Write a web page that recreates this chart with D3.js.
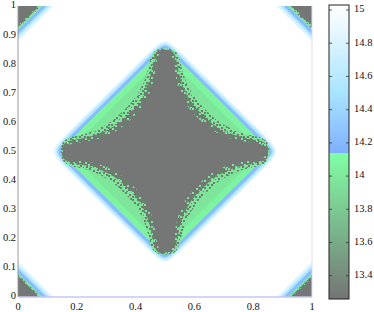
<!DOCTYPE html>
<html>
<head>
<meta charset="utf-8">
<script src="https://cdn.jsdelivr.net/npm/d3@7"></script>
<style>
  body { margin: 0; background: #fff; }
  svg { display: block; }
  text { font-family: "Liberation Serif", "DejaVu Serif", serif; font-size: 10.5px; fill: #111; }
</style>
</head>
<body>
<svg id="chart" width="374" height="312"></svg>
<script>
// ticks
const xTicks = [0, 0.2, 0.4, 0.6, 0.8, 1];
const yTicks = [0, 0.1, 0.2, 0.3, 0.4, 0.5, 0.6, 0.7, 0.8, 0.9, 1];
const cbTicks = [13.4, 13.6, 13.8, 14, 14.2, 14.4, 14.6, 14.8, 15];
const cbRange = [13.26, 15.03];

// colormap stops (value -> colour), the jump green->blue sits at 14.14
const cmapValues = [13.26, 14.14, 14.1401, 14.5, 15.03];
const cmapColors = ["#757575", "#80ffa4", "#7fb0ff", "#a8e4ff", "#ffffff"];

// centre diamond bands: [value, L1 radius on the sides, radius at the tips]
const centerBands = [
  [14.82, 0.395, 0.377],
  [14.55, 0.386, 0.370],
  [14.22, 0.375, 0.363],
  [14.07, 0.360, 0.354],
  [13.98, 0.330, 0.352]
];
// star shaped low region, one octant (|dx|,|dy|) from top tip to diagonal
const rimOuter = [[0, 0.354], [0.032, 0.347], [0.046, 0.328], [0.054, 0.30], [0.062, 0.268], [0.072, 0.24], [0.087, 0.21], [0.106, 0.18], [0.122, 0.16], [0.141, 0.141]];
const rimInner = [[0, 0.351], [0.024, 0.345], [0.035, 0.328], [0.042, 0.298], [0.049, 0.265], [0.058, 0.232], [0.073, 0.198], [0.092, 0.166], [0.108, 0.146], [0.127, 0.127]];
const coreOctant = [[0, 0.347], [0.015, 0.343], [0.024, 0.325], [0.03, 0.295], [0.036, 0.26], [0.045, 0.222], [0.06, 0.185], [0.08, 0.152], [0.095, 0.133], [0.113, 0.113]];
const coreValue = 13.27;

// corner diamonds: [value, L1 radius]; "A"/"B" = noisy rim
const cornerBands = [[14.82, 0.12], [14.55, 0.108], [14.22, 0.097], [14.07, 0.082], ["B", 0.078], ["A", 0.073], [13.27, 0.067]];
const corners = [[0, 0], [1, 0], [0, 1], [1, 1]];
const center = [0.5, 0.5];

const svg = d3.select("#chart");
const x = d3.scaleLinear().domain([0, 1]).range([18, 312]);
const y = d3.scaleLinear().domain([0, 1]).range([297, 6]);
const color = d3.scaleLinear().domain(cmapValues).range(cmapColors);

const defs = svg.append("defs");
defs.append("clipPath").attr("id", "plotclip")
  .append("rect").attr("x", x(0)).attr("y", y(1))
  .attr("width", x(1) - x(0)).attr("height", y(0) - y(1));

// speckle textures for the noisy rim of the low region
function speckle(id, base, blocks) {
  const p = defs.append("pattern").attr("id", id)
    .attr("width", 12).attr("height", 12).attr("patternUnits", "userSpaceOnUse");
  p.append("rect").attr("width", 12).attr("height", 12).attr("fill", base);
  p.selectAll("rect.b").data(blocks).enter().append("rect")
    .attr("x", d => d[0]).attr("y", d => d[1]).attr("width", 2).attr("height", 2)
    .attr("fill", d => d[2]);
}
const G = color(13.98), D = "#5e8c62", K = color(coreValue);
speckle("speckA", K, [[0, 0, G], [6, 1, D], [9, 0, G], [3, 3, D], [1, 6, G], [7, 5, G], [10, 7, D],
  [4, 8, G], [0, 10, D], [7, 10, G], [10, 11, G], [5, 0, D]]);
speckle("speckB", G, [[1, 1, K], [5, 0, D], [9, 2, K], [3, 4, D], [7, 4, K], [0, 7, D], [5, 7, K],
  [10, 6, D], [2, 10, K], [8, 9, K], [11, 11, D], [6, 11, D], [0, 4, K]]);

const plot = svg.append("g").attr("clip-path", "url(#plotclip)");
plot.append("rect").attr("x", x(0)).attr("y", y(1))
  .attr("width", x(1) - x(0)).attr("height", y(0) - y(1)).attr("fill", "#fff");

const line = d3.line().x(d => x(d[0])).y(d => y(d[1]));

// rounded diamond through b-spline control points
function roundedDiamond(c, rs, rt) {
  const s = Math.max(rs - rt, 0.004) / 0.2357;
  const verts = [[0, rs], [rs, 0], [0, -rs], [-rs, 0]];
  const pts = [];
  verts.forEach((v, i) => {
    const prev = verts[(i + 3) % 4], next = verts[(i + 1) % 4];
    const dp = [prev[0] - v[0], prev[1] - v[1]], dn = [next[0] - v[0], next[1] - v[1]];
    const lp = Math.hypot(dp[0], dp[1]), ln = Math.hypot(dn[0], dn[1]);
    pts.push([c[0] + v[0] + dp[0] / lp * s, c[1] + v[1] + dp[1] / lp * s]);
    pts.push([c[0] + v[0], c[1] + v[1]]);
    pts.push([c[0] + v[0] + dn[0] / ln * s, c[1] + v[1] + dn[1] / ln * s]);
  });
  return pts;
}

function star(c, oct) {
  // octant -> quadrant (mirror on diagonal), then four quadrants
  const quad = oct.concat(oct.slice(0, -1).reverse().map(p => [p[1], p[0]]));
  const pts = [];
  quad.forEach(p => pts.push([c[0] + p[0], c[1] + p[1]]));
  quad.slice(1).forEach(p => pts.push([c[0] + p[1], c[1] - p[0]]));
  quad.slice(1).forEach(p => pts.push([c[0] - p[0], c[1] - p[1]]));
  quad.slice(1, -1).forEach(p => pts.push([c[0] - p[1], c[1] + p[0]]));
  return pts;
}

centerBands.forEach(b => {
  plot.append("path")
    .attr("d", line.curve(d3.curveBasisClosed)(roundedDiamond(center, b[1], Math.min(b[1], b[2]))))
    .attr("fill", color(b[0]));
});
[[rimOuter, "url(#speckB)"], [rimInner, "url(#speckA)"], [coreOctant, K]].forEach(r => {
  plot.append("path").attr("d", line.curve(d3.curveCatmullRomClosed)(star(center, r[0])))
    .attr("fill", r[1]);
});

corners.forEach(c => {
  cornerBands.forEach(b => {
    const r = b[1];
    plot.append("path")
      .attr("d", line.curve(d3.curveLinearClosed)([[c[0], c[1] + r], [c[0] + r, c[1]], [c[0], c[1] - r], [c[0] - r, c[1]]]))
      .attr("fill", typeof b[0] === "string" ? "url(#speck" + b[0] + ")" : color(b[0]));
  });
});

// frame lines
svg.append("line").attr("x1", x(0)).attr("x2", x(0)).attr("y1", y(1)).attr("y2", y(0))
  .attr("stroke", "#9a9a9a").attr("stroke-width", 1);
svg.append("line").attr("x1", x(0)).attr("x2", x(1)).attr("y1", y(0)).attr("y2", y(0))
  .attr("stroke", "#c6c6f2").attr("stroke-width", 1.6);
svg.append("line").attr("x1", x(1)).attr("x2", x(1)).attr("y1", y(1)).attr("y2", y(0))
  .attr("stroke", "#dedefa").attr("stroke-width", 1);

// tick labels
svg.selectAll(".xl").data(xTicks).enter().append("text")
  .attr("x", d => x(d)).attr("y", 310).attr("text-anchor", "middle")
  .text(d => d3.format("")(d));
svg.selectAll(".yl").data(yTicks).enter().append("text")
  .attr("x", 16).attr("y", d => y(d)).attr("text-anchor", "end")
  .attr("dominant-baseline", "middle").text(d => d3.format("")(d));

// colorbar
const cb = d3.scaleLinear().domain(cbRange).range([299, 5]);
const cbx0 = 329, cbx1 = 349;
const rows = d3.range(5, 299);
svg.append("g").selectAll("rect").data(rows).enter().append("rect")
  .attr("x", cbx0).attr("y", d => d).attr("width", cbx1 - cbx0).attr("height", 1.05)
  .attr("fill", d => color(cb.invert(d + 0.5)));
svg.append("rect").attr("x", cbx0).attr("y", 5).attr("width", cbx1 - cbx0).attr("height", 294)
  .attr("fill", "none").attr("stroke", "#222").attr("stroke-width", 1);
const cbt = svg.append("g").selectAll("g").data(cbTicks).enter().append("g");
cbt.append("line").attr("x1", cbx0).attr("x2", cbx0 + 3).attr("y1", d => cb(d)).attr("y2", d => cb(d))
  .attr("stroke", "#333").attr("stroke-width", 0.8);
cbt.append("line").attr("x1", cbx1 - 3).attr("x2", cbx1).attr("y1", d => cb(d)).attr("y2", d => cb(d))
  .attr("stroke", "#333").attr("stroke-width", 0.8);
cbt.append("text").attr("x", 354).attr("y", d => cb(d)).attr("dominant-baseline", "middle")
  .text(d => d3.format("")(d));
</script>
</body>
</html>
